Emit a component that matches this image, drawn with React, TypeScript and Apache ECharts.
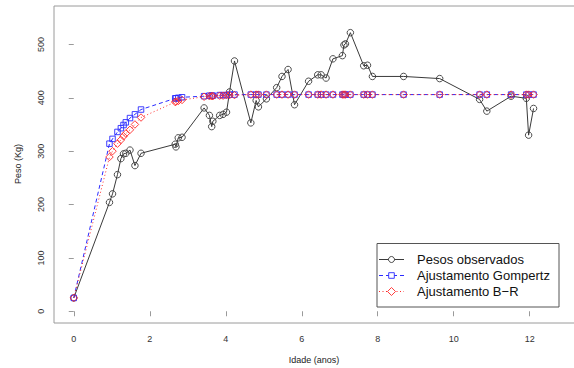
import React, { useEffect, useRef } from "react";
import * as echarts from "echarts";

const ages = [
  0.0, 0.94, 1.02, 1.15, 1.24, 1.31, 1.37, 1.48, 1.61, 1.77,
  2.67, 2.69, 2.75, 2.85,
  3.43, 3.57, 3.63, 3.66, 3.84, 3.93, 4.02, 4.1, 4.23,
  4.66, 4.8, 4.86, 5.07, 5.34, 5.48, 5.64, 5.81,
  6.18, 6.42, 6.51, 6.64, 6.82,
  7.07, 7.11, 7.15, 7.28,
  7.63, 7.73, 7.86,
  8.68, 9.63,
  10.68, 10.87, 11.51, 11.91, 11.97, 12.1,
];

const observed = [
  25, 204, 220, 256, 286, 295, 296, 302, 273, 296,
  313, 308, 325, 326,
  381, 367, 346, 356, 367, 369, 373, 411, 469,
  353, 395, 383, 398, 419, 440, 453, 387,
  431, 443, 443, 437, 473,
  479, 499, 501, 522,
  460, 461, 440,
  440, 436,
  397, 375, 403, 399, 330, 380,
];

const gompertz = [
  25, 314, 323, 336, 343, 349, 354, 362, 369, 378,
  399, 399, 400, 401,
  403, 404, 404, 404, 405, 405, 405, 406, 406,
  406, 406, 406, 406, 406, 406, 406, 406,
  406, 406, 406, 406, 406,
  406, 406, 406, 406,
  406, 406, 406,
  406, 406,
  406, 406, 406, 406, 406, 406,
];

const bertalanffy = [
  25, 289, 300, 314, 321, 328, 333, 340, 350, 363,
  392, 393, 394, 396,
  402, 403, 403, 403, 404, 404, 405, 405, 405,
  406, 406, 406, 406, 406, 406, 406, 406,
  406, 406, 406, 406, 406,
  406, 406, 406, 406,
  406, 406, 406,
  406, 406,
  406, 406, 406, 406, 406, 406,
];

const xTicks = [0, 2, 4, 6, 8, 10, 12];
const yTicks = [0, 100, 200, 300, 400, 500];
const legendLabels = ["Pesos observados", "Ajustamento Gompertz", "Ajustamento B\u2212R"];

const FONT = "'Liberation Sans', Arial, Helvetica, sans-serif";
const BLACK = "#3a3a3a";
const BLUE = "#2a2aff";
const RED = "#ff2a2a";

export default function App() {
  const ref = useRef<HTMLDivElement>(null);
  useEffect(() => {
    if (!ref.current) return;
    const chart = echarts.init(ref.current, undefined, { renderer: "svg" });
    const rows = [259.5, 275.5, 291.5];
    chart.setOption({
      animation: false,
      backgroundColor: "#ffffff",
      grid: {
        left: 54,
        top: 6,
        width: 533.5,
        height: 317,
        show: true,
        borderColor: "#9a9a9a",
        borderWidth: 1,
        backgroundColor: "transparent",
        outerBoundsMode: "none",
      },
      xAxis: {
        type: "value",
        min: -0.52,
        max: 13.52,
        splitLine: { show: false },
        axisLine: { show: false },
        axisTick: {
          show: true,
          customValues: xTicks,
          length: 5,
          lineStyle: { color: "#9a9a9a" },
        },
        axisLabel: {
          show: true,
          customValues: xTicks,
          margin: 11,
          fontSize: 9,
          fontFamily: FONT,
          color: "#333",
        },
      },
      yAxis: {
        type: "value",
        min: -22,
        max: 572,
        splitLine: { show: false },
        axisLine: { show: false },
        axisTick: {
          show: true,
          customValues: yTicks,
          length: 5,
          lineStyle: { color: "#9a9a9a" },
        },
        axisLabel: {
          show: true,
          customValues: yTicks,
          rotate: 90,
          margin: 9,
          fontSize: 9,
          fontFamily: FONT,
          color: "#333",
        },
      },
      series: [
        {
          name: legendLabels[0],
          type: "line",
          data: ages.map((a, i) => [a, observed[i]]),
          symbol: "circle",
          symbolSize: 6.5,
          lineStyle: { color: BLACK, width: 1 },
          itemStyle: { color: "rgba(255,255,255,0)", borderColor: BLACK, borderWidth: 0.9 },
        },
        {
          name: legendLabels[1],
          type: "line",
          data: ages.map((a, i) => [a, gompertz[i]]),
          symbol: "rect",
          symbolSize: 5.5,
          lineStyle: { color: BLUE, width: 1, type: [4, 3] },
          itemStyle: { color: "rgba(255,255,255,0)", borderColor: BLUE, borderWidth: 0.9 },
        },
        {
          name: legendLabels[2],
          type: "line",
          data: ages.map((a, i) => [a, bertalanffy[i]]),
          symbol: "diamond",
          symbolSize: 7.5,
          lineStyle: { color: RED, width: 1, type: [1, 2.5] },
          itemStyle: { color: "rgba(255,255,255,0)", borderColor: RED, borderWidth: 0.9 },
        },
      ],
      graphic: [
        {
          type: "text",
          x: 314,
          y: 360,
          style: {
            text: "Idade (anos)",
            font: `9px ${FONT}`,
            fill: "#222",
            align: "center",
            verticalAlign: "middle",
          },
        },
        {
          type: "text",
          x: 18,
          y: 164,
          rotation: Math.PI / 2,
          style: {
            text: "Peso (Kg)",
            font: `9px ${FONT}`,
            fill: "#222",
            align: "center",
            verticalAlign: "middle",
          },
        },
        {
          type: "group",
          z: 100,
          children: [
            {
              type: "rect",
              shape: { x: 377, y: 243.5, width: 182, height: 63.5 },
              style: { fill: "#fff", stroke: "#555", lineWidth: 1 },
              z: 100,
            },
            {
              type: "line",
              shape: { x1: 379, y1: rows[0], x2: 404, y2: rows[0] },
              style: { stroke: BLACK, lineWidth: 1 },
              z: 101,
            },
            {
              type: "circle",
              shape: { cx: 391.5, cy: rows[0], r: 3 },
              style: { fill: "#fff", stroke: BLACK, lineWidth: 0.9 },
              z: 102,
            },
            {
              type: "line",
              shape: { x1: 379, y1: rows[1], x2: 404, y2: rows[1] },
              style: { stroke: BLUE, lineWidth: 1, lineDash: [4, 3] },
              z: 101,
            },
            {
              type: "rect",
              shape: { x: 388.7, y: rows[1] - 2.8, width: 5.6, height: 5.6 },
              style: { fill: "#fff", stroke: BLUE, lineWidth: 0.9 },
              z: 102,
            },
            {
              type: "line",
              shape: { x1: 379, y1: rows[2], x2: 404, y2: rows[2] },
              style: { stroke: RED, lineWidth: 1, lineDash: [1, 2.5] },
              z: 101,
            },
            {
              type: "polygon",
              shape: {
                points: [
                  [391.5, rows[2] - 4],
                  [395.5, rows[2]],
                  [391.5, rows[2] + 4],
                  [387.5, rows[2]],
                ],
              },
              style: { fill: "#fff", stroke: RED, lineWidth: 0.9 },
              z: 102,
            },
            ...legendLabels.map((t, i) => ({
              type: "text",
              x: 417,
              y: rows[i],
              z: 102,
              style: {
                text: t,
                font: `13px ${FONT}`,
                fill: "#111",
                align: "left",
                verticalAlign: "middle",
              },
            })),
          ],
        },
      ],
    });
    return () => chart.dispose();
  }, []);
  return (
    <div
      style={{
        position: "fixed",
        left: 0,
        top: 0,
        width: 574,
        height: 368,
        overflow: "hidden",
        background: "#fff",
      }}
    >
      <div ref={ref} style={{ width: 600, height: 368 }} />
    </div>
  );
}
